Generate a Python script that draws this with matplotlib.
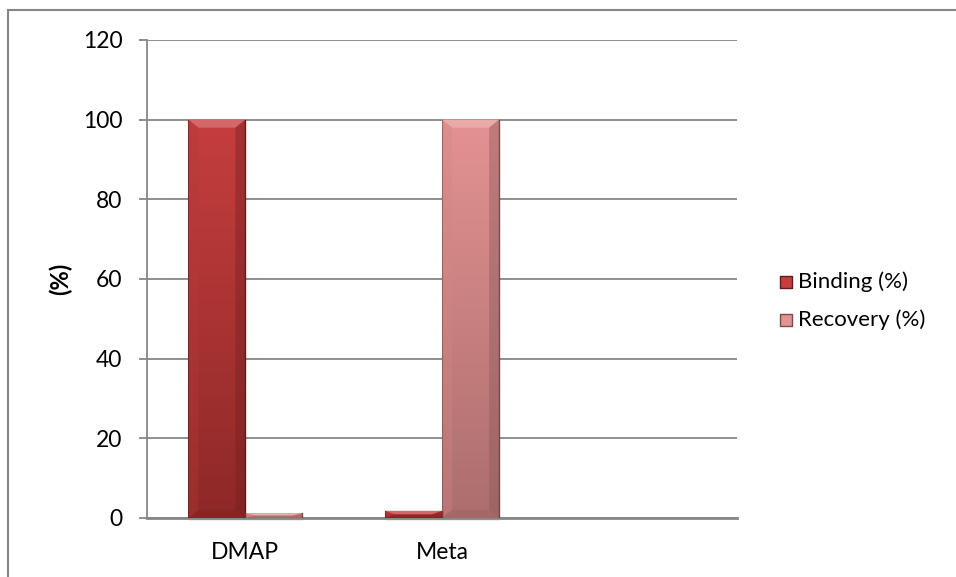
import matplotlib.pyplot as plt
import numpy as np
from matplotlib.colors import LinearSegmentedColormap
from matplotlib.patches import Polygon, Rectangle

categories = ["DMAP", "Meta", ""]
binding = [100, 1.8, 0]
recovery = [1.2, 100, 0]
series = [("Binding (%)", binding, "#c63e3e", "#8e2828"),
          ("Recovery (%)", recovery, "#e49292", "#ad6e6e")]

plt.rcParams["font.family"] = ["Lato", "DejaVu Sans"]

fig = plt.figure(figsize=(9.56, 5.77), dpi=100)
ax = fig.add_axes([0.1538, 0.1023, 0.6172, 0.8284])

x = np.arange(len(categories))
width = 0.29
ax.set_xlim(-0.5, len(categories) - 0.5)
ax.set_ylim(0, 120)

# pixel size in data units, for the bevel edges
px_x = 3.0 / 590
px_y = 120 / 478


def shade(c, f):
    c = np.array(plt.matplotlib.colors.to_rgb(c))
    if f >= 0:
        return tuple(c + (1 - c) * f)
    return tuple(c * (1 + f))


def bevel_bar(x0, h, top_c, bot_c):
    if h <= 0:
        return
    # soft shadow under the bar
    ax.add_patch(Rectangle((x0 + 1 * px_x, -3 * px_y), width, h,
                           color="black", alpha=0.07, zorder=2, clip_on=False, lw=0))
    cmap = LinearSegmentedColormap.from_list("g", [bot_c, top_c])
    grad = np.linspace(0, 1, 256).reshape(-1, 1)
    rect = Rectangle((x0, 0), width, h, transform=ax.transData, lw=0)
    im = ax.imshow(grad, extent=(x0, x0 + width, 0, h), origin="lower",
                   cmap=cmap, aspect="auto", zorder=3)
    im.set_clip_path(rect)
    bx = min(10 * px_x, width / 2)
    by = min(8 * px_y, h / 2)
    x1 = x0 + width
    # top bevel
    ax.add_patch(Polygon([(x0, h), (x1, h), (x1 - bx, h - by), (x0 + bx, h - by)],
                         closed=True, color=shade(top_c, 0.22), lw=0, zorder=4))
    # left and right edges
    ax.add_patch(Polygon([(x0, 0), (x0, h), (x0 + bx, h - by), (x0 + bx, by)],
                         closed=True, color=shade(top_c, -0.08), alpha=0.35, lw=0, zorder=4))
    ax.add_patch(Polygon([(x1, 0), (x1, h), (x1 - bx, h - by), (x1 - bx, by)],
                         closed=True, color=shade(bot_c, -0.2), alpha=0.4, lw=0, zorder=4))
    # bottom edge
    ax.add_patch(Polygon([(x0, 0), (x1, 0), (x1 - bx, by), (x0 + bx, by)],
                         closed=True, color=shade(bot_c, -0.1), alpha=0.5, lw=0, zorder=4))
    ax.plot([x0, x0], [0, h], color=shade(bot_c, -0.3), lw=0.8, alpha=0.6, zorder=5)
    ax.plot([x1, x1], [0, h], color=shade(bot_c, -0.45), lw=1, alpha=0.8, zorder=5)


for i, (label, vals, top_c, bot_c) in enumerate(series):
    offset = (i - 0.5) * width
    for xi, v in zip(x, vals):
        bevel_bar(xi + offset - width / 2, v, top_c, bot_c)
    ax.scatter([], [], marker="s", s=85, color=top_c, edgecolor=shade(bot_c, -0.3),
               label=label)

ax.set_yticks(np.arange(0, 121, 20))
ax.yaxis.grid(True, color="#868686", lw=1.3)
ax.set_axisbelow(True)
ax.tick_params(axis="y", length=5.8, width=1.3, color="#868686", labelsize=16.5, pad=12)
ax.set_xticks(x)
ax.set_xticklabels(categories, fontsize=16.5)
ax.tick_params(axis="x", length=0, pad=17)
for s in ["top", "right"]:
    ax.spines[s].set_visible(False)
ax.spines["left"].set_color("#868686")
ax.spines["left"].set_linewidth(1.3)
ax.spines["bottom"].set_color("#868686")
ax.spines["bottom"].set_linewidth(2)
ax.set_ylabel("(%)", fontsize=17, fontweight="bold")
ax.yaxis.set_label_coords(-0.127, 0.5)

ax.legend(loc="center left", bbox_to_anchor=((778 - 147) / 590, 0.455), frameon=False,
          fontsize=16, handletextpad=0.15, labelspacing=0.8, handlelength=0.75,
          borderpad=0, borderaxespad=0)

# chart-area frame
fig.add_artist(Rectangle((8 / 956, -0.1), 1.2, 1 - 10 / 577 + 0.1, transform=fig.transFigure,
                         fill=False, edgecolor="#868686", lw=1.5))

fig.savefig("out.png", dpi=100)
